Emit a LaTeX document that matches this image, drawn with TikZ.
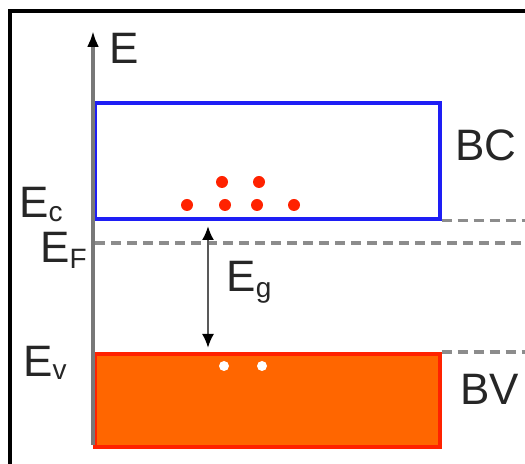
\documentclass[tikz,border=0pt]{standalone}
\usepackage{fontspec}
\setmainfont{Liberation Sans}
\usetikzlibrary{arrows.meta,positioning,calc}
\definecolor{bandblue}{RGB}{30,30,245}
\definecolor{bandorange}{RGB}{255,102,0}
\definecolor{bandred}{RGB}{255,34,0}
\definecolor{axisgray}{RGB}{120,120,120}
\newcommand{\lvl}[3][3pt]{#2\raisebox{-#1}{\fontsize{14}{14}\selectfont #3}}

\begin{document}
\begin{tikzpicture}[
  x=0.5pt, y=-0.5pt,
  every node/.style={font=\fontsize{22}{24}\selectfont, text=black!85, inner sep=0pt},
  level/.style={draw=axisgray!85, line width=1.6pt, dash pattern=on 5pt off 3pt},
  electron/.style={circle, fill=bandred, minimum size=6pt},
  hole/.style={circle, fill=white, minimum size=5pt}
]
\useasboundingbox (0,0) rectangle (525,464);
\clip (0,0) rectangle (525,464);

% cadre
\draw[black, line width=2pt] (10,11) rectangle (600,520);

% bandes
\node[draw=bandblue, line width=1.8pt, minimum width=172.5pt, minimum height=58pt,
      anchor=north west] (bc) at (93,101) {};
\node[draw=bandred, fill=bandorange, line width=1.8pt, minimum width=172.5pt, minimum height=46.5pt,
      anchor=north west] (bv) at (93,352) {};

% niveaux
\coordinate (efstart) at (95,243);
\coordinate (efend) at (525,243);
\draw[level] (bc.south east) -- (bc.south east -| efend);
\draw[level] (efstart) -- (efend);
\draw[level] (bv.north east) -- (bv.north east -| efend);

% axe des energies
\coordinate (origin) at (93,445);
\coordinate (etop) at (93,31);
\draw[axisgray, line width=1.6pt, -{Latex[length=8pt,width=6pt,color=black]}] (origin) -- (etop);
\node[anchor=base west] (elabel) at (109,64) {E};

% electrons et trous
\foreach \x/\y [count=\i] in {187/205, 225/205, 257/205, 294/205, 222/182, 259/182}
  \node[electron] (e\i) at (\x,\y) {};
\foreach \x [count=\i] in {224, 262}
  \node[hole] (h\i) at (\x,366) {};

% gap
\coordinate (gtop) at (208,226);
\coordinate (gbot) at (208,348);
\draw[black!65, line width=1.1pt, {Latex[length=7pt,width=6pt,color=black]}-{Latex[length=7pt,width=6pt,color=black]}] (gtop) -- (gbot);
\node[anchor=base west] (eg) at (226,292) {\lvl{E}{g}};

% etiquettes
\node[anchor=base west] (ec) at (19,218) {\lvl[2pt]{E}{c}};
\node[anchor=base west] (ef) at (40,263) {\lvl{E}{F}};
\node[anchor=base west] (ev) at (23,377) {\lvl[1.5pt]{E}{v}};
\node[anchor=base west] (bclabel) at (455,161) {BC};
\node[anchor=base west] (bvlabel) at (460,405) {BV};
\end{tikzpicture}
\end{document}
